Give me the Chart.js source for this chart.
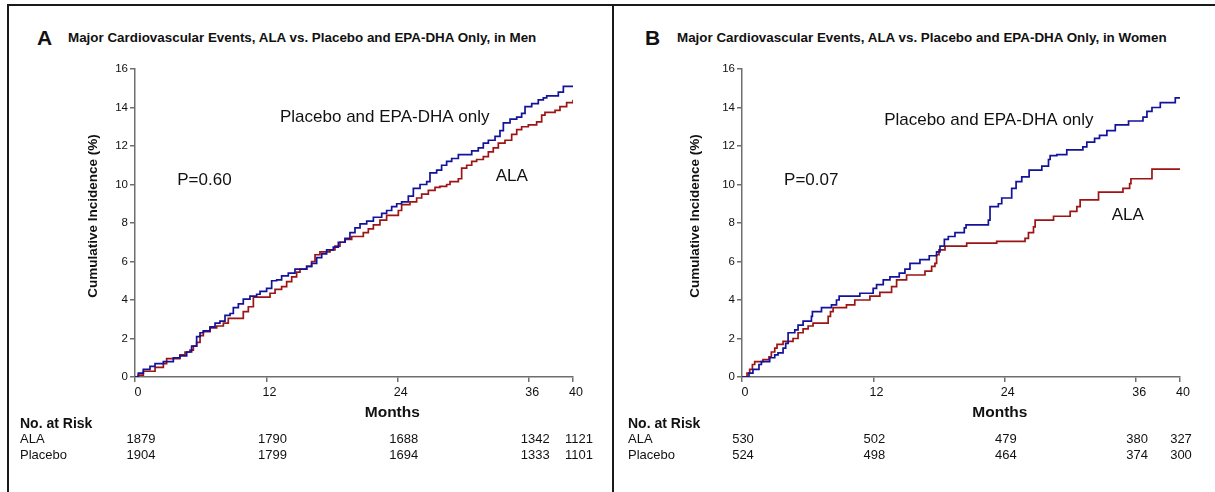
<!DOCTYPE html>
<html>
<head>
<meta charset="utf-8">
<script src="https://cdn.jsdelivr.net/npm/chart.js@4.4.1/dist/chart.umd.min.js"></script>
<style>
  html, body { margin: 0; padding: 0; background: #fff; }
  #wrap { position: relative; width: 1215px; height: 492px; overflow: hidden; font-family: "Liberation Sans", Arial, sans-serif; color: #111; }
  .bar { position: absolute; background: #1a1a1a; }
  .lbl { position: absolute; white-space: nowrap; font-weight: bold; }
  .letter { font-size: 21px; line-height: 24px; }
  .ttl { font-size: 13.4px; line-height: 16px; }
  canvas { position: absolute; top: 0; }
</style>
</head>
<body>
<div id="wrap">
  <div class="bar" style="left:7px;top:4px;width:1208px;height:2px"></div>
  <div class="bar" style="left:7px;top:4px;width:2px;height:488px"></div>
  <div class="bar" style="left:612px;top:4px;width:2px;height:488px"></div>

  <div class="lbl letter" style="left:37px;top:26px">A</div>
  <div class="lbl ttl" style="left:68px;top:30px">Major Cardiovascular Events, ALA vs. Placebo and EPA-DHA Only, in Men</div>
  <div class="lbl letter" style="left:645px;top:26px">B</div>
  <div class="lbl ttl" style="left:677px;top:30px">Major Cardiovascular Events, ALA vs. Placebo and EPA-DHA Only, in Women</div>

  <div style="position:absolute;left:0;top:0;width:612px;height:492px"><canvas id="cA"></canvas></div>
  <div style="position:absolute;left:614px;top:0;width:601px;height:492px"><canvas id="cB"></canvas></div>
</div>
<script>
// ---------- data ----------
const xTickValues = [0, 12, 24, 36, 40];
const yTickValues = [0, 2, 4, 6, 8, 10, 12, 14, 16];

const menPlaceboMonths = [0,0.3,0.76,1.37,1.83,2.59,3.5,4.1,4.72,5.17,5.63,5.94,6.24,6.85,7.31,7.76,8.22,8.68,8.98,9.44,9.89,10.5,11.11,11.42,12.02,12.48,12.94,13.39,14.0,14.61,15.68,16.13,16.59,17.05,17.5,18.11,18.57,19.18,19.63,20.09,20.55,21.16,21.77,22.53,22.98,23.44,23.9,24.35,24.96,25.42,26.03,26.64,26.94,27.55,28.0,28.46,28.92,29.53,30.75,31.35,31.81,32.27,32.88,33.33,33.64,34.25,34.86,35.31,35.62,36.23,36.83,37.29,37.6,38.66,39.12,40];
const menPlaceboValues = [0,0.2,0.4,0.55,0.7,0.8,1.0,1.1,1.3,1.6,2.1,2.3,2.4,2.6,2.8,2.9,3.2,3.3,3.6,3.8,4.05,4.2,4.3,4.45,4.6,5.0,5.05,5.25,5.4,5.6,5.75,5.9,6.2,6.4,6.6,6.75,7.0,7.2,7.5,7.75,7.95,8.1,8.3,8.5,8.65,8.85,9.0,9.1,9.4,9.8,10.0,10.15,10.6,10.75,11.0,11.2,11.35,11.55,11.75,11.9,12.15,12.3,12.5,12.8,13.2,13.4,13.5,13.7,14.05,14.2,14.4,14.5,14.6,14.8,15.1,15.1];

const menAlaMonths = [0,0.3,0.76,1.83,2.59,2.89,4.1,4.57,5.02,5.33,5.63,5.94,6.24,6.85,7.46,8.07,8.52,9.89,10.35,10.81,12.33,12.79,13.39,13.85,14.31,14.76,15.07,15.68,16.13,16.44,16.89,17.81,18.26,18.72,19.18,19.79,20.85,21.31,21.77,22.37,22.98,24.05,24.35,25.11,25.72,26.18,26.79,27.4,27.85,28.46,28.77,29.53,29.83,30.29,30.75,31.2,31.81,32.27,32.72,33.18,33.79,34.4,34.86,35.31,35.92,36.68,37.14,37.44,38.36,38.81,39.42,40];
const menAlaValues = [0,0.1,0.3,0.5,0.7,0.95,1.15,1.3,1.4,1.6,1.8,2.15,2.35,2.55,2.65,2.8,3.05,3.4,3.65,4.15,4.35,4.55,4.7,4.95,5.2,5.45,5.6,5.75,6.0,6.35,6.5,6.6,6.8,7.0,7.15,7.3,7.5,7.7,7.9,8.15,8.4,8.65,8.95,9.1,9.3,9.5,9.7,9.85,9.9,10.0,10.15,10.3,10.85,11.0,11.2,11.3,11.45,11.7,11.9,12.15,12.3,12.6,12.85,13.0,13.1,13.25,13.6,13.75,13.85,14.05,14.25,14.4];

const womenPlaceboMonths = [0,0.64,1.0,1.55,1.77,2.53,2.99,3.29,3.75,3.99,4.21,4.82,5.12,5.58,6.34,6.43,7.26,8.17,8.63,8.87,10.76,11.98,12.29,12.9,13.51,14.36,14.88,15.34,16.25,17.1,17.77,18.08,18.48,18.84,19.45,20.3,20.46,22.5,22.65,23.41,23.72,24.63,25.03,25.55,26.22,27.38,27.99,28.14,28.75,29.66,31.13,31.49,32.2,32.65,33.32,34.09,35.3,36.62,36.98,37.44,38.2,39.57,40];
const womenPlaceboValues = [0,0.2,0.4,0.65,0.8,1.0,1.15,1.25,1.5,1.75,2.3,2.45,2.7,2.9,3.15,3.4,3.6,3.75,4.0,4.2,4.35,4.6,4.8,5.05,5.2,5.4,5.6,5.9,6.1,6.3,6.5,6.8,7.15,7.3,7.5,7.75,7.9,8.15,8.85,9.0,9.3,9.8,10.15,10.4,10.75,10.95,11.3,11.5,11.55,11.8,11.95,12.2,12.4,12.55,12.8,13.1,13.3,13.5,13.8,14.0,14.25,14.5,14.5];

const womenAlaMonths = [0,0.46,0.7,0.95,1.16,1.92,2.47,2.68,2.99,3.2,3.75,4.66,5.12,5.58,6.04,6.49,7.87,8.08,8.32,9.54,10.3,11.68,12.59,13.66,14.12,15.03,16.71,17.32,17.62,17.77,17.99,18.54,20.52,23.26,25.85,26.16,26.62,26.77,28.45,29.97,30.58,30.88,32.56,34.79,35.4,35.52,37.44,40];
const womenAlaValues = [0,0.2,0.4,0.65,0.8,0.9,1.05,1.3,1.5,1.7,1.85,2.0,2.3,2.5,2.65,2.8,3.15,3.4,3.6,3.75,4.0,4.2,4.4,4.7,5.05,5.3,5.5,5.75,5.9,6.35,6.6,6.8,6.95,7.05,7.2,7.5,7.8,8.15,8.35,8.6,8.85,9.2,9.6,9.8,10.05,10.3,10.8,10.8];

const riskMonths = [0, 12, 24, 36, 40];
const riskRowLabels = ['ALA', 'Placebo'];
const menRiskAla = [1879, 1790, 1688, 1342, 1121];
const menRiskPlacebo = [1904, 1799, 1694, 1333, 1101];
const womenRiskAla = [530, 502, 479, 380, 327];
const womenRiskPlacebo = [524, 498, 464, 374, 300];

// ---------- rendering ----------
const FONT = '"Liberation Sans", Arial, sans-serif';
Chart.defaults.font.family = FONT;
Chart.defaults.color = '#111';

const BLUE = '#12129a';
const RED = '#9c1414';
const AXIS = '#6e6e6e';

function pts(xs, ys) { return xs.map((m, i) => ({ x: m, y: ys[i] })); }

const kmText = {
  id: 'kmText',
  afterDraw(chart, args, o) {
    const { ctx, chartArea: ca, scales: { x, y } } = chart;
    ctx.save();
    ctx.fillStyle = '#111';
    // y axis title
    ctx.save();
    ctx.translate(ca.left - o.yTitleGap, (ca.top + ca.bottom) / 2 - 7);
    ctx.rotate(-Math.PI / 2);
    ctx.font = 'bold 13.5px ' + FONT;
    ctx.textAlign = 'center';
    ctx.textBaseline = 'middle';
    ctx.fillText('Cumulative Incidence (%)', 0, 0);
    ctx.restore();
    // x axis title
    ctx.font = 'bold 15.5px ' + FONT;
    ctx.textAlign = 'center';
    ctx.textBaseline = 'middle';
    ctx.fillText('Months', x.getPixelForValue(o.xTitleAt), ca.bottom + 36);
    // in-plot notes
    ctx.font = '17px ' + FONT;
    ctx.textAlign = 'left';
    o.notes.forEach(n => ctx.fillText(n.text, x.getPixelForValue(n.x), y.getPixelForValue(n.y)));
    // number at risk
    ctx.font = 'bold 14px ' + FONT;
    ctx.fillText('No. at Risk', o.riskLabelX, 424);
    ctx.font = '13px ' + FONT;
    const rows = [o.riskAla, o.riskPlacebo];
    const rowY = [439, 455];
    rows.forEach((vals, r) => {
      ctx.textAlign = 'left';
      ctx.fillText(riskRowLabels[r], o.riskLabelX, rowY[r]);
      ctx.textAlign = 'center';
      vals.forEach((v, i) => ctx.fillText(String(v), x.getPixelForValue(riskMonths[i]) + o.riskShift, rowY[r]));
    });
    ctx.restore();
  }
};

function makeChart(id, placeboX, placeboY, alaX, alaY, yWidth, padRight, extra) {
  return new Chart(document.getElementById(id), {
    type: 'line',
    data: {
      datasets: [
        { label: 'Placebo and EPA-DHA only', data: pts(placeboX, placeboY), borderColor: BLUE, borderWidth: 1.7, stepped: 'before', pointRadius: 0, fill: false },
        { label: 'ALA', data: pts(alaX, alaY), borderColor: RED, borderWidth: 1.7, stepped: 'before', pointRadius: 0, fill: false }
      ]
    },
    options: {
      responsive: true,
      maintainAspectRatio: false,
      animation: false,
      events: [],
      layout: { padding: { left: 0, right: padRight, top: 69, bottom: 85 } },
      scales: {
        x: {
          type: 'linear', min: 0, max: 40,
          afterBuildTicks: s => { s.ticks = xTickValues.map(v => ({ value: v })); },
          afterFit: s => { s.height = 30; },
          ticks: { font: { size: 12.5 }, color: '#111', padding: 3, labelOffset: 3, maxRotation: 0, autoSkip: false },
          grid: { display: true, drawOnChartArea: false, drawTicks: true, tickLength: 5, color: AXIS, lineWidth: 1.5 },
          border: { display: true, color: AXIS, width: 1.5 }
        },
        y: {
          type: 'linear', min: 0, max: 16,
          afterBuildTicks: s => { s.ticks = yTickValues.map(v => ({ value: v })); },
          afterFit: s => { s.width = yWidth; },
          ticks: { font: { size: 11.5 }, color: '#111', padding: 2 },
          grid: { display: true, drawOnChartArea: false, drawTicks: true, tickLength: 5, color: AXIS, lineWidth: 1.5 },
          border: { display: true, color: AXIS, width: 1.5 }
        }
      },
      plugins: {
        legend: { display: false },
        tooltip: { enabled: false },
        kmText: extra
      }
    },
    plugins: [kmText]
  });
}

makeChart('cA', menPlaceboMonths, menPlaceboValues, menAlaMonths, menAlaValues, 135, 39, {
  yTitleGap: 42,
  xTitleAt: 23.5,
  notes: [
    { text: 'Placebo and EPA-DHA only', x: 13.24, y: 13.49 },
    { text: 'P=0.60', x: 3.86, y: 10.2 },
    { text: 'ALA', x: 32.94, y: 10.45 }
  ],
  riskLabelX: 20,
  riskShift: 6,
  riskAla: menRiskAla,
  riskPlacebo: menRiskPlacebo
});

makeChart('cB', womenPlaceboMonths, womenPlaceboValues, womenAlaMonths, womenAlaValues, 128, 35, {
  yTitleGap: 47,
  xTitleAt: 23.55,
  notes: [
    { text: 'Placebo and EPA-DHA only', x: 12.98, y: 13.32 },
    { text: 'P=0.07', x: 3.84, y: 10.2 },
    { text: 'ALA', x: 33.77, y: 8.41 }
  ],
  riskLabelX: 14,
  riskShift: 1,
  riskAla: womenRiskAla,
  riskPlacebo: womenRiskPlacebo
});
</script>
</body>
</html>
